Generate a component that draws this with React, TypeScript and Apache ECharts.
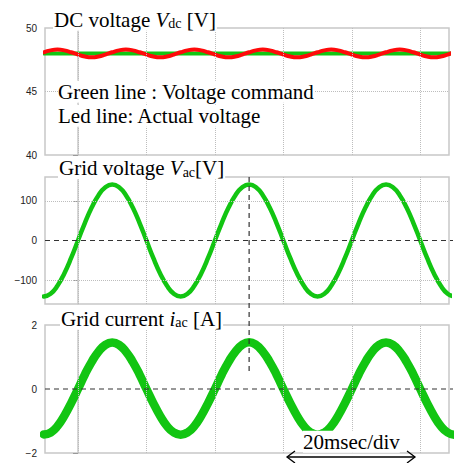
import React, { useEffect, useRef } from "react";
import * as echarts from "echarts";

// sample times (ms)
const timeMs = [
  -5, -4, -3, -2, -1, 0, 1, 2, 3, 4, 5, 6, 7, 8, 9, 10, 11, 12, 13, 14, 15, 16, 17, 18, 19,
  20, 21, 22, 23, 24, 25, 26, 27, 28, 29, 30, 31, 32, 33, 34, 35, 36, 37, 38, 39, 40, 41, 42,
  43, 44, 45, 46, 47, 48, 49, 50, 51, 52, 53, 54, 55,
];
const gridTimesMs = [0, 10, 20, 30, 40, 50];

// DC voltage [V]
const dcCommandTimes = [-5, 55];
const dcCommandV = [48, 48];
const dcActualV = [
  48.09, 48.24, 48.3, 48.24, 48.09, 47.91, 47.76, 47.7, 47.76, 47.91,
  48.09, 48.24, 48.3, 48.24, 48.09, 47.91, 47.76, 47.7, 47.76, 47.91,
  48.09, 48.24, 48.3, 48.24, 48.09, 47.91, 47.76, 47.7, 47.76, 47.91,
  48.09, 48.24, 48.3, 48.24, 48.09, 47.91, 47.76, 47.7, 47.76, 47.91,
  48.09, 48.24, 48.3, 48.24, 48.09, 47.91, 47.76, 47.7, 47.76, 47.91,
  48.09, 48.24, 48.3, 48.24, 48.09, 47.91, 47.76, 47.7, 47.76, 47.91,
  48.09,
];

// Grid voltage [V]
const gridVoltageV = [
  -141, -134, -114, -83, -44,
  0, 44, 83, 114, 134, 141, 134, 114, 83, 44, 0, -44, -83, -114, -134, -141, -134, -114, -83, -44,
  0, 44, 83, 114, 134, 141, 134, 114, 83, 44, 0, -44, -83, -114, -134, -141, -134, -114, -83, -44,
  0, 44, 83, 114, 134, 141, 134, 114, 83, 44, 0, -44, -83, -114, -134, -141,
];

// Grid current [A]
const gridCurrentA = [
  -1.42, -1.36, -1.16, -0.84, -0.44,
  0, 0.45, 0.85, 1.17, 1.38, 1.45, 1.38, 1.17, 0.85, 0.45, 0, -0.44, -0.84, -1.16, -1.36, -1.43, -1.36, -1.16, -0.84, -0.44,
  0, 0.45, 0.85, 1.17, 1.38, 1.46, 1.38, 1.17, 0.85, 0.45, 0, -0.44, -0.84, -1.16, -1.36, -1.43, -1.36, -1.16, -0.84, -0.44,
  0, 0.45, 0.85, 1.17, 1.38, 1.45, 1.38, 1.17, 0.85, 0.45, 0, -0.44, -0.84, -1.16, -1.36, -1.43,
];

const dcTicks = [40, 45, 50];
const vacTicks = [-100, 0, 100];
const iacTicks = [-2, 0, 2];
const dcGridLines = [45];
const vacGridLines = [-100, 100];
const markerTimeMs = 25;
const markerCurrentEnd = 0.5;

const X_MIN = -4.82;
const X_MAX = 54.2;
const GREEN = "#12c512";
const RED = "#ff0a0a";
const FRAME = "#c8c8c8";
const SERIF = "'Liberation Serif', 'Times New Roman', serif";
const SANS = "'Liberation Sans', Arial, sans-serif";

const zip = (xs: number[], ys: number[]) => xs.map((x, i) => [x, ys[i]]);

export default function App() {
  const ref = useRef<HTMLDivElement>(null);
  useEffect(() => {
    const chart = echarts.init(ref.current!, null, { renderer: "svg" });

    const grids = [
      { top: 28, height: 127 },
      { top: 177, height: 127 },
      { top: 325, height: 128 },
    ].map((g) => ({
      left: 45,
      right: 7,
      top: g.top,
      height: g.height,
      show: true,
      borderColor: FRAME,
      borderWidth: 1.5,
      backgroundColor: "transparent",
    }));

    const xAxes = [0, 1, 2].map((i) => ({
      type: "value",
      gridIndex: i,
      min: X_MIN,
      max: X_MAX,
      axisLine: { show: false },
      axisTick:
        i === 2
          ? { show: true, length: 5, customValues: gridTimesMs, lineStyle: { color: "#999" } }
          : { show: false },
      axisLabel: { show: false },
      splitLine: { show: false },
    }));

    const yBase = {
      type: "value",
      splitLine: { show: false },
      axisLine: { show: true, lineStyle: { color: FRAME, width: 1.5 } },
      axisTick: { show: true, length: 5, lineStyle: { color: "#999" } },
    };
    const labelStyle = {
      fontSize: 10,
      color: "#222",
      fontFamily: SANS,
      margin: 8,
      formatter: (v: number) => String(v).replace("-", "\u2212"),
    };
    const yAxes = [
      { ...yBase, gridIndex: 0, min: 40, max: 50, interval: 5, axisLabel: { ...labelStyle, customValues: dcTicks }, axisTick: { ...yBase.axisTick, customValues: dcTicks } },
      { ...yBase, gridIndex: 1, min: -160, max: 160, axisLabel: { ...labelStyle, customValues: vacTicks }, axisTick: { ...yBase.axisTick, customValues: vacTicks } },
      { ...yBase, gridIndex: 2, min: -2, max: 2, interval: 2, axisLabel: { ...labelStyle, customValues: iacTicks }, axisTick: { ...yBase.axisTick, customValues: iacTicks } },
    ];

    const gridLineSeries = (i: number, hLines: number[]) => ({
      type: "line",
      xAxisIndex: i,
      yAxisIndex: i,
      data: [],
      z: 1,
      silent: true,
      markLine: {
        silent: true,
        symbol: ["none", "none"],
        animation: false,
        label: { show: false },
        lineStyle: { type: "dotted", color: "#bdbdbd", width: 1 },
        data: [
          ...gridTimesMs.map((t) => ({ xAxis: t })),
          ...hLines.map((v) => ({ yAxis: v })),
        ],
      },
    });

    const lineSeries = (i: number, data: number[][], color: string, width: number, z: number) => ({
      type: "line",
      xAxisIndex: i,
      yAxisIndex: i,
      data,
      z,
      smooth: true,
      symbol: "none",
      silent: true,
      lineStyle: { color, width, cap: "round", join: "round" },
    });

    const titleText = (x: number, y: number, text: string) => ({
      type: "text",
      x,
      y,
      z: 50,
      silent: true,
      style: {
        text,
        backgroundColor: "#fff",
        padding: [0, 1],
        rich: {
          a: { fontFamily: SERIF, fontSize: 21, lineHeight: 22, fill: "#000" },
          v: { fontFamily: SERIF, fontSize: 21, lineHeight: 22, fill: "#000", fontStyle: "italic" },
          s: { fontFamily: SERIF, fontSize: 14, lineHeight: 14, fill: "#000", verticalAlign: "bottom" },
        },
      },
    });

    const plainText = (x: number, y: number, text: string) => ({
      type: "text",
      x,
      y,
      z: 50,
      silent: true,
      style: {
        text,
        fontFamily: SERIF,
        fontSize: 21,
        lineHeight: 22,
        fill: "#000",
        backgroundColor: "#fff",
        verticalAlign: "top",
      },
    });

    const arrowY = 457;
    const arrowL = 287;
    const arrowR = 415;
    const arrowStyle = { stroke: "#000", lineWidth: 1.3, fill: "none" };

    chart.setOption({
      animation: false,
      grid: grids,
      xAxis: xAxes,
      yAxis: yAxes,
      series: [
        gridLineSeries(0, dcGridLines),
        gridLineSeries(1, vacGridLines),
        gridLineSeries(2, []),
        lineSeries(0, zip(dcCommandTimes, dcCommandV), GREEN, 4, 3),
        lineSeries(0, zip(timeMs, dcActualV), RED, 4, 4),
        lineSeries(1, zip(timeMs, gridVoltageV), GREEN, 4.5, 3),
        lineSeries(2, zip(timeMs, gridCurrentA), GREEN, 8.5, 3),
      ],
      graphic: [
        titleText(53, 8.7, "{a|DC voltage }{v|V}{s|dc}{a| [V]}"),
        titleText(58, 157.2, "{a|Grid voltage }{v|V}{s|ac}{a|[V]}"),
        titleText(60, 307.7, "{a|Grid current }{v|i}{s|ac}{a| [A]}"),
        plainText(58, 80.7, "Green line : Voltage command"),
        plainText(58, 104.7, "Led line: Actual voltage"),
        plainText(303, 430.7, "20msec/div"),
        { type: "line", z: 50, shape: { x1: arrowL, y1: arrowY, x2: arrowR, y2: arrowY }, style: arrowStyle },
        { type: "polyline", z: 50, shape: { points: [[arrowL + 8, arrowY - 6], [arrowL, arrowY], [arrowL + 8, arrowY + 6]] }, style: arrowStyle },
        { type: "polyline", z: 50, shape: { points: [[arrowR - 8, arrowY - 6], [arrowR, arrowY], [arrowR - 8, arrowY + 6]] }, style: arrowStyle },
      ],
    });

    // dashed reference lines positioned through the chart's own scales
    const dash = { stroke: "#333", lineWidth: 1.2, lineDash: [5, 4] };
    const z1 = chart.convertToPixel({ gridIndex: 1 }, [X_MIN, 0]) as number[];
    const z2 = chart.convertToPixel({ gridIndex: 2 }, [X_MIN, 0]) as number[];
    const vTop = chart.convertToPixel({ gridIndex: 1 }, [markerTimeMs, 160]) as number[];
    const vBot = chart.convertToPixel({ gridIndex: 2 }, [markerTimeMs, markerCurrentEnd]) as number[];
    chart.setOption({
      graphic: [
        { type: "line", id: "zero1", z: 40, shape: { x1: z1[0], y1: z1[1], x2: 453, y2: z1[1] }, style: dash },
        { type: "line", id: "zero2", z: 40, shape: { x1: z2[0], y1: z2[1], x2: 453, y2: z2[1] }, style: dash },
        { type: "line", id: "vmark", z: 40, shape: { x1: vTop[0], y1: vTop[1], x2: vBot[0], y2: vBot[1] }, style: dash },
      ],
    });

    return () => chart.dispose();
  }, []);
  return <div ref={ref} style={{ position: "absolute", left: 0, top: 0, width: 456, height: 463 }} />;
}
